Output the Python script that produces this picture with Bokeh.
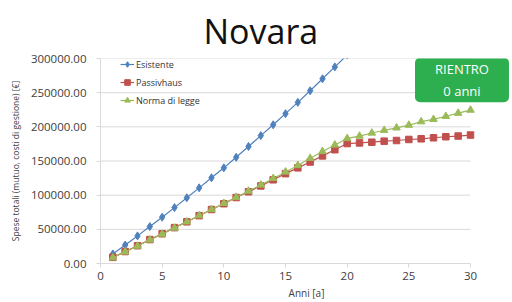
from bokeh.plotting import figure
from bokeh.models import (ColumnDataSource, Label, Legend, LegendItem, FixedTicker,
                          NumeralTickFormatter, Range1d)
from bokeh.embed import file_html
from bokeh.resources import INLINE

title_text = "Novara"
x_label = "Anni [a]"
y_label = "Spese totali (mutuo, costi di gestione) [€]"
series_names = ["Esistente", "Passivhaus", "Norma di legge"]
badge_text = "RIENTRO\n0 anni"

years_esistente = list(range(1, 21))
esistente = [14000, 27000, 40400, 54000, 67800, 81800, 96200, 110700, 125500, 140000,
             155400, 171300, 187200, 203000, 219300, 235800, 252800, 270300, 287700, 305000]

years = list(range(1, 31))
passivhaus = [9000, 17500, 26000, 35000, 43500, 52500, 61000, 70000, 79000, 87500,
              96500, 105000, 113500, 122500, 131500, 140000, 148500, 157500, 166500, 175500,
              176500, 177500, 179000, 180000, 181500, 182500, 184000, 185500, 186500, 188000]
norma = [8500, 17000, 25500, 34500, 43000, 52000, 61000, 70000, 79000, 88000,
         97000, 106000, 115000, 124500, 134000, 143500, 154000, 164000, 173500, 183000,
         186500, 191000, 195000, 198500, 202500, 207500, 211000, 215500, 220000, 224500]

x_ticks = [0, 5, 10, 15, 20, 25, 30]
y_ticks = [0, 50000, 100000, 150000, 200000, 250000, 300000]

FONT = "Open Sans"
BLUE = "#4F81BD"
RED = "#C0504D"
GREEN = "#9BBB59"
GRID = "#D9D9D9"
TXT = "#404040"

W, H = 512, 302
X_MAX = x_ticks[-1]
# frame extends right to the page edge so the badge can sit there; axis stops at 30
x_end = X_MAX * 412 / 370
p = figure(width=W, height=H, output_backend="svg", toolbar_location=None,
           x_range=Range1d(0, x_end), y_range=Range1d(0, y_ticks[-1]),
           min_border_left=100, min_border_right=0, min_border_top=57, min_border_bottom=39)
p.outline_line_color = None
p.background_fill_color = "white"
p.border_fill_color = "white"

# horizontal gridlines only over the axis extent
grid_src = ColumnDataSource(dict(x0=[0] * (len(y_ticks) - 1), x1=[X_MAX] * (len(y_ticks) - 1),
                                 y=y_ticks[1:]))
p.segment("x0", "y", "x1", "y", source=grid_src, line_color=GRID, line_width=1, level="underlay")

src_e = ColumnDataSource(dict(x=years_esistente, y=esistente))
src_p = ColumnDataSource(dict(x=years, y=passivhaus))
src_n = ColumnDataSource(dict(x=years, y=norma))

le = p.line("x", "y", source=src_e, color=BLUE, line_width=1.2)
me = p.scatter("x", "y", source=src_e, marker="diamond", size=8, color=BLUE)
lp = p.line("x", "y", source=src_p, color=RED, line_width=1.2)
mp = p.scatter("x", "y", source=src_p, marker="square", size=6.5, color=RED)
ln = p.line("x", "y", source=src_n, color=GREEN, line_width=1.2)
mn = p.scatter("x", "y", source=src_n, marker="triangle", size=7.5, color=GREEN)

# axes
p.xaxis.ticker = FixedTicker(ticks=x_ticks)
p.yaxis.ticker = FixedTicker(ticks=y_ticks)
p.xaxis.bounds = (0, X_MAX)
p.yaxis.formatter = NumeralTickFormatter(format="0.00")
for ax in (p.xaxis[0], p.yaxis[0]):
    ax.axis_line_color = GRID
    ax.major_tick_line_color = GRID
    ax.minor_tick_line_color = None
    ax.major_tick_in = 0
    ax.major_tick_out = 4
    ax.major_label_text_font = FONT
    ax.major_label_text_color = TXT
    ax.axis_label_text_font = FONT
    ax.axis_label_text_color = TXT
    ax.axis_label_text_font_style = "normal"
p.yaxis.major_label_text_font_size = "11.5px"
p.yaxis.major_label_standoff = 10
p.xaxis.major_label_text_font_size = "11.5px"
p.xaxis.major_label_standoff = 4
p.xaxis.axis_label = x_label
p.xaxis.axis_label_text_font_size = "10px"
p.xaxis.axis_label_standoff = 3
p.yaxis.axis_label = y_label
p.yaxis.axis_label_text_font_size = "8.5px"
p.yaxis.axis_label_standoff = 7

p.xgrid.grid_line_color = None
p.ygrid.grid_line_color = None

legend = Legend(items=[LegendItem(label=series_names[0], renderers=[le, me]),
                       LegendItem(label=series_names[1], renderers=[lp, mp]),
                       LegendItem(label=series_names[2], renderers=[ln, mn])],
                location=(20, 156), orientation="vertical")
legend.background_fill_alpha = 0
legend.border_line_color = None
legend.label_text_font = FONT
legend.label_text_font_size = "9px"
legend.label_text_color = "#333333"
legend.glyph_width = 14
legend.glyph_height = 14
legend.label_height = 14
legend.spacing = 4
legend.padding = 0
legend.margin = 0
legend.label_standoff = 2
p.add_layout(legend, "center")

p.title.text = title_text
p.title.text_font = FONT
p.title.text_font_size = "34px"
p.title.text_font_style = "normal"
p.title.text_color = "#111111"
p.title.align = "left"
p.title.offset = 103
p.title.standoff = 10

badge = Label(x=361.5, y=183.5, x_units="screen", y_units="screen", text=badge_text,
              text_font=FONT, text_font_size="13px", text_color="white",
              text_align="center", text_baseline="middle", text_line_height=1.25,
              background_fill_color="#2DAE4F", border_line_color=None,
              padding=(20, 2), border_radius=5)
p.add_layout(badge)

open("out.html", "w").write(file_html(p, INLINE))
